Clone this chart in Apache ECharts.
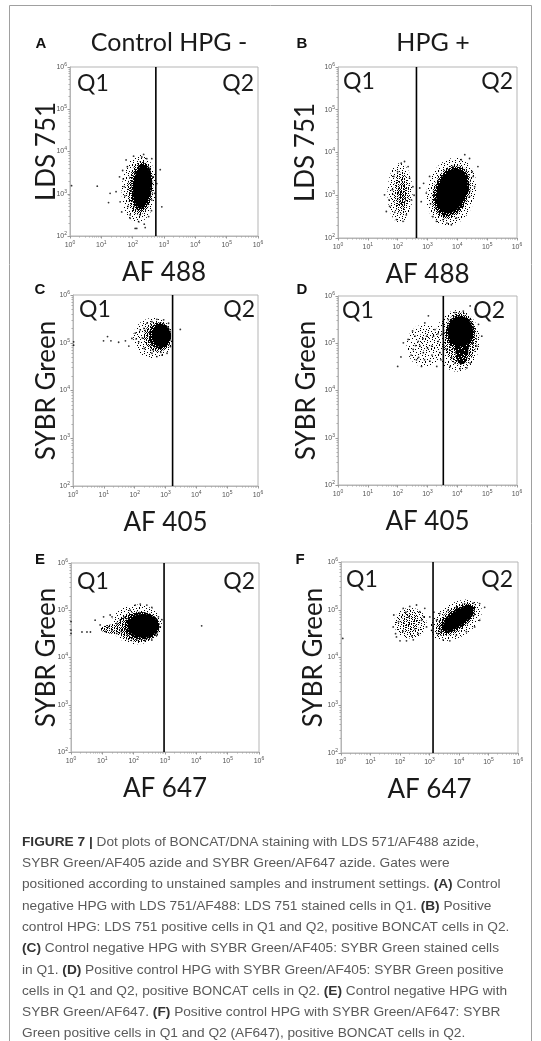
<!DOCTYPE html>
<html><head><meta charset="utf-8">
<script src="https://cdn.jsdelivr.net/npm/echarts@6/dist/echarts.min.js"></script>
<style>html,body{margin:0;padding:0;background:#fff}#c{width:541px;height:1041px}</style>
</head><body><div id="c"></div>
<script>
// ---------------- DATA ----------------
const panelLetters = ['A','B','C','D','E','F'];
const columnTitles = ['Control HPG -', 'HPG +'];
const xNames = ['AF 488','AF 488','AF 405','AF 405','AF 647','AF 647'];
const yNames = ['LDS 751','LDS 751','SYBR Green','SYBR Green','SYBR Green','SYBR Green'];
const quadrantNames = ['Q1','Q2'];
const xTickExp = [0,1,2,3,4,5,6];   // 10^0 .. 10^6
const yTickExp = [2,3,4,5,6];       // 10^2 .. 10^6
// gate position (log10 of fluorescence) for each panel
const gatesLog = [2.74, 2.63, 3.23, 3.53, 2.97, 3.12];
// dense populations: [log10 x centre, log10 y centre, spread x (decades), spread y (decades), tilt (deg), relative density]
const clustersA = [[2.2,3.12,0.55,0.8,-5,0.1],[2.25,3.14,0.4,0.64,-8,0.35],[2.29,3.16,0.33,0.57,-8,0.7],[2.3,3.17,0.28,0.51,-8,1]];
const clustersB = [[2.08,3.05,0.42,0.7,0,0.1],[2.12,3.05,0.26,0.48,0,0.25],[2.15,3.02,0.13,0.3,0,0.45],
                   [3.8,3.08,0.88,0.75,35,0.1],[3.8,3.08,0.72,0.55,40,0.35],[3.81,3.09,0.66,0.5,43,0.7],[3.82,3.1,0.59,0.44,45,1]];
const clustersC = [[2.6,5.1,0.65,0.42,0,0.1],[2.75,5.12,0.45,0.31,0,0.35],[2.82,5.14,0.36,0.28,0,0.7],[2.86,5.15,0.3,0.24,0,1]];
const clustersD = [[2.9,4.95,0.6,0.45,0,0.08],[3.1,5.05,0.4,0.25,0,0.12],[4.0,5.05,0.75,0.65,0,0.1],
                   [4.1,5.1,0.55,0.55,0,0.3],[4.1,5.22,0.48,0.38,0,0.65],[4.1,5.25,0.42,0.32,0,1],[4.15,4.85,0.22,0.3,0,0.85]];
const clustersE = [[2.1,4.7,0.8,0.42,0,0.1],[1.4,4.6,0.45,0.1,0,0.3],[2.15,4.65,0.68,0.32,0,0.35],[2.27,4.67,0.56,0.29,0,0.7],[2.3,4.67,0.49,0.25,0,1]];
const clustersF = [[2.35,4.72,0.55,0.32,0,0.14],[2.35,4.72,0.3,0.2,0,0.25],[3.9,4.78,0.9,0.38,15,0.1],
                   [3.9,4.8,0.72,0.26,20,0.35],[3.95,4.81,0.62,0.21,21,0.7],[3.97,4.82,0.55,0.17,22,1]];
// individual events outside the dense cores: [log10 x, log10 y]
const dotsA = [[0.05,3.19],[0.87,3.18],[1.28,3.01],[1.23,2.79],[1.58,3.40],[1.60,2.81],[1.65,2.57],[1.79,3.80],[1.92,2.42],[2.08,2.18],[2.19,2.34],[2.37,2.28],[2.51,2.46],[2.61,3.83],[2.88,3.57],[2.93,2.69],[2.77,3.24],[2.70,3.01],[2.61,2.85],[1.83,3.64],[1.73,3.17],[1.47,3.05],[2.03,3.89],[2.29,3.87],[2.45,3.83],[1.92,2.50],[2.24,2.50],[2.13,2.18],[1.70,3.35],[1.75,2.95],[2.55,3.6],[2.6,2.6],[1.85,2.7],[2.4,2.2],[2.66,3.4],[1.68,3.55],[2.35,3.93]];
const dotsB = [[1.56,3.01],[1.62,2.62],[1.73,2.74],[1.87,3.44],[2.12,3.75],[2.23,3.79],[2.35,3.67],[1.96,2.43],[2.18,2.39],[2.29,2.54],[2.46,2.89],[2.51,3.20],[1.82,3.13],[1.71,2.89],[2.0,3.55],[2.4,3.4],[2.55,3.0],[1.9,2.6],[2.74,3.17],[2.79,2.85],[2.87,3.28],[2.96,3.05],[3.07,3.44],[3.18,2.50],[3.30,2.39],[3.52,2.43],[3.80,2.31],[3.97,2.47],[4.19,2.74],[4.41,2.97],[4.58,3.20],[4.69,3.67],[4.41,3.86],[4.13,3.83],[3.85,3.67],[3.52,3.44],[3.35,3.32],[4.53,3.44],[4.36,3.28],[3.1,2.8],[3.2,3.0],[4.0,2.6],[4.5,3.55],[4.25,3.95],[3.65,2.35]];
const dotsC = [[0.02,5.02],[0.02,4.95],[0.99,5.04],[1.12,5.13],[1.23,5.04],[1.48,5.01],[1.70,5.04],[1.81,4.93],[1.91,5.09],[2.02,5.20],[2.13,5.02],[2.18,5.27],[2.31,4.88],[2.40,5.41],[2.56,4.78],[2.72,4.71],[2.89,4.74],[3.05,4.78],[3.16,4.92],[3.10,5.41],[2.94,5.48],[2.72,5.49],[2.56,5.44],[3.48,5.28],[2.25,5.1],[2.05,5.08],[2.6,4.85],[2.85,4.8],[2.3,5.3]];
const dotsD = [[2.00,4.51],[2.11,4.71],[2.19,5.01],[2.50,5.26],[2.52,4.87],[2.63,4.65],[2.69,5.04],[2.80,4.51],[2.86,4.80],[2.91,5.43],[2.97,5.15],[3.03,5.58],[3.08,4.62],[3.14,4.94],[3.25,5.29],[3.31,4.51],[3.36,5.04],[3.42,4.80],[2.35,5.08],[2.58,5.15],[2.75,4.94],[3.20,5.15],[3.48,5.19],[3.76,4.51],[3.92,4.58],[4.43,4.58],[4.65,4.94],[4.71,5.40],[4.60,5.72],[4.43,5.79],[4.20,5.68],[3.92,5.65],[3.70,5.50],[3.64,4.87],[4.82,5.15],[3.81,4.69],[4.32,4.48],[4.09,4.46],[2.7,4.7],[2.9,4.65],[3.0,4.9],[3.15,4.75],[2.85,5.1],[2.6,4.95],[3.35,5.2],[3.55,5.22],[3.45,4.65],[2.45,4.75],[4.5,5.0],[4.55,5.25]];
const dotsE = [[0.0,4.76],[0.0,4.58],[0.0,4.51],[0.35,4.54],[0.51,4.54],[0.62,4.54],[0.77,4.79],[0.93,4.69],[1.04,4.86],[1.20,4.65],[1.25,4.90],[1.31,4.58],[1.46,4.72],[1.57,4.79],[1.78,4.47],[1.89,5.00],[2.05,5.11],[2.21,5.13],[2.42,5.11],[2.58,5.06],[2.79,4.86],[2.85,4.65],[2.74,4.47],[2.58,4.37],[2.37,4.36],[2.10,4.37],[1.94,4.40],[4.17,4.67],[1.31,4.86],[1.46,4.51],[1.1,4.55],[1.6,4.55],[1.7,4.85],[2.9,4.8]];
const dotsF = [[1.79,4.89],[1.77,4.64],[1.88,4.43],[2.00,4.35],[2.22,4.35],[2.45,4.37],[2.62,4.50],[2.73,4.78],[2.67,4.96],[2.56,5.10],[2.33,5.07],[2.11,5.03],[2.84,5.03],[2.90,4.64],[3.01,4.85],[3.07,4.57],[3.24,4.78],[3.29,4.50],[3.46,4.37],[3.69,4.35],[3.91,4.47],[4.25,4.54],[4.53,4.64],[4.70,4.78],[4.87,5.05],[4.70,5.13],[4.48,5.14],[4.19,5.13],[3.91,5.05],[3.63,4.99],[3.35,4.92],[0.06,4.40],[1.95,4.75],[2.1,4.55],[2.3,4.85],[2.5,4.6],[2.2,4.95],[2.8,4.85],[3.15,4.95],[3.4,4.55],[2.4,4.45],[1.85,4.5]];
const captionLines = [
  '{b|FIGURE 7 |} Dot plots of BONCAT/DNA staining with LDS 571/AF488 azide,',
  'SYBR Green/AF405 azide and SYBR Green/AF647 azide. Gates were',
  'positioned according to unstained samples and instrument settings. {b|(A)} Control',
  'negative HPG with LDS 751/AF488: LDS 751 stained cells in Q1. {b|(B)} Positive',
  'control HPG: LDS 751 positive cells in Q1 and Q2, positive BONCAT cells in Q2.',
  '{b|(C)} Control negative HPG with SYBR Green/AF405: SYBR Green stained cells',
  'in Q1. {b|(D)} Positive control HPG with SYBR Green/AF405: SYBR Green positive',
  'cells in Q1 and Q2, positive BONCAT cells in Q2. {b|(E)} Control negative HPG with',
  'SYBR Green/AF647. {b|(F)} Positive control HPG with SYBR Green/AF647: SYBR',
  'Green positive cells in Q1 and Q2 (AF647), positive BONCAT cells in Q2.'
];
const allClusters = [clustersA, clustersB, clustersC, clustersD, clustersE, clustersF];
const allDots = [dotsA, dotsB, dotsC, dotsD, dotsE, dotsF];

// ---------------- LAYOUT / STYLE ----------------
const grids = [
  {left:70, top:67, width:188, height:169},
  {left:338, top:67, width:179, height:171},
  {left:73, top:295, width:185, height:191},
  {left:338, top:296, width:179, height:189},
  {left:71, top:563, width:188, height:189},
  {left:341, top:562, width:177, height:191}
];
const yNameGap = [10, 19, 13, 18, 11, 14];
const letterPos = [[41,44],[302,44],[40,290],[302,290],[40,560],[300,560]];
const q1Off = [[7,17],[5,15],[6,15],[4,15],[6,19],[5,18]];
const q2Off = [[4,17],[4,15],[3,15],[12,15],[4,19],[5,18]];
const titleFont = 'Lato';

// stipple texture for partially dense regions (pure fill style)
const patternCache = {};
function stipple(cov) {
  const key = cov.toFixed(2);
  if (patternCache[key]) return patternCache[key];
  const size = 23, c = document.createElement('canvas');
  c.width = c.height = size;
  const ctx = c.getContext('2d');
  ctx.fillStyle = '#000';
  const n = Math.round(cov * size * size * 1.3);
  for (let k = 0; k < n; k++) {
    const x = Math.floor(((0.5 + k * 0.7548776662) % 1) * size);
    const y = Math.floor(((0.5 + k * 0.5698402910) % 1) * size);
    ctx.fillRect(x, y, 1, 1);
  }
  return (patternCache[key] = {image:c, repeat:'repeat'});
}

const pow = v => Math.pow(10, v);
const tickFmt = v => '{b|10}{s|' + Math.round(Math.log10(v)) + '}';
const tickRich = {b:{fontSize:7, color:'#555', fontFamily:'Liberation Sans'}, s:{fontSize:5, color:'#555', fontFamily:'Liberation Sans', padding:[0,0,5,0]}};

const xAxes = [], yAxes = [], series = [], graphics = [];
grids.forEach((g, i) => {
  const common = {
    type:'log', logBase:10, gridIndex:i,
    axisLine:{show:true, lineStyle:{color:'#b5b5b5', width:1}},
    axisTick:{show:true, length:2.5, lineStyle:{color:'#999'}},
    minorTick:{show:true, splitNumber:9, length:1.5, lineStyle:{color:'#aaa'}},
    splitLine:{show:false},
    nameLocation:'middle', nameMoveOverlap:false,
    nameTextStyle:{fontFamily:titleFont, fontSize:26, color:'#1a1a1a'}
  };
  xAxes.push(Object.assign({}, common, {
    min:pow(xTickExp[0]), max:pow(xTickExp[xTickExp.length-1]), splitNumber:xTickExp.length-1,
    name:xNames[i], nameGap:24,
    axisLabel:{formatter:tickFmt, rich:tickRich, margin:4}
  }));
  yAxes.push(Object.assign({}, common, {
    min:pow(yTickExp[0]), max:pow(yTickExp[yTickExp.length-1]), splitNumber:yTickExp.length-1,
    name:yNames[i], nameGap:yNameGap[i], nameRotate:90,
    axisLabel:{formatter:tickFmt, rich:tickRich, margin:3}
  }));
  // dense populations
  series.push({
    type:'custom', xAxisIndex:i, yAxisIndex:i, silent:true, clip:true,
    data: allClusters[i].map(c => [pow(c[0]), pow(c[1]), c[2], c[3], c[4], c[5]]),
    renderItem: (params, api) => {
      const cx = Math.log10(api.value(0)), cy = Math.log10(api.value(1));
      const rx = api.value(2), ry = api.value(3), a = api.value(4) * Math.PI / 180, d = api.value(5);
      const pts = [];
      for (let k = 0; k < 60; k++) {
        const t = k / 60 * Math.PI * 2;
        const lx = cx + rx * Math.cos(t) * Math.cos(a) - ry * Math.sin(t) * Math.sin(a);
        const ly = cy + rx * Math.cos(t) * Math.sin(a) + ry * Math.sin(t) * Math.cos(a);
        pts.push(api.coord([pow(lx), pow(ly)]));
      }
      return {type:'polygon', shape:{points:pts}, style:{fill: d >= 0.95 ? '#000' : stipple(d)}};
    }
  });
  // single events
  series.push({
    type:'scatter', xAxisIndex:i, yAxisIndex:i, silent:true,
    symbolSize:1.8, itemStyle:{color:'#000'},
    data: allDots[i].map(p => [pow(p[0]), pow(p[1])])
  });
  // gate
  series.push({
    type:'line', xAxisIndex:i, yAxisIndex:i, silent:true, symbol:'none',
    lineStyle:{color:'#000', width:1.6},
    data:[[pow(gatesLog[i]), pow(yTickExp[0])], [pow(gatesLog[i]), pow(yTickExp[yTickExp.length-1])]]
  });
  // quadrant labels
  graphics.push({type:'text', left:g.left + q1Off[i][0], top:g.top + q1Off[i][1] - 12,
    style:{text:quadrantNames[0], fontFamily:titleFont, fontSize:23, fill:'#1a1a1a'}});
  graphics.push({type:'text', right:541 - (g.left + g.width) + q2Off[i][0], top:g.top + q2Off[i][1] - 12,
    style:{text:quadrantNames[1], fontFamily:titleFont, fontSize:23, fill:'#1a1a1a'}});
  // panel letter
  graphics.push({type:'text', x:letterPos[i][0], y:letterPos[i][1],
    style:{text:panelLetters[i], fontFamily:'Liberation Sans', fontWeight:'bold', fontSize:15, fill:'#111',
      align:'center', verticalAlign:'middle'}});
});

// column titles
graphics.push({type:'text', x:169, y:43, style:{text:columnTitles[0], fontFamily:titleFont, fontSize:25, fill:'#1a1a1a', align:'center', verticalAlign:'middle'}});
graphics.push({type:'text', x:433, y:43, style:{text:columnTitles[1], fontFamily:titleFont, fontSize:25, fill:'#1a1a1a', align:'center', verticalAlign:'middle'}});
// frame
graphics.push({type:'rect', shape:{x:9.5, y:5.5, width:522, height:1100}, style:{fill:'none', stroke:'#a0a0a0', lineWidth:1}, z:-1});
// caption
captionLines.forEach((t, k) => {
  graphics.push({type:'text', x:22, y:842 + k * 21.3,
    style:{text:t, fontFamily:'Liberation Sans', fontSize:13.7, fill:'#5a5a5a', verticalAlign:'middle',
      rich:{b:{fontFamily:'Liberation Sans', fontSize:13.7, fontWeight:'bold', fill:'#333'}}}});
});

const chart = echarts.init(document.getElementById('c'), null, {renderer:'canvas'});
chart.setOption({
  animation:false,
  backgroundColor:'#fff',
  grid: grids.map(g => Object.assign({show:true, borderColor:'#b5b5b5', borderWidth:1, containLabel:false}, g)),
  xAxis: xAxes,
  yAxis: yAxes,
  series: series,
  graphic: graphics
});
</script>
</body></html>
